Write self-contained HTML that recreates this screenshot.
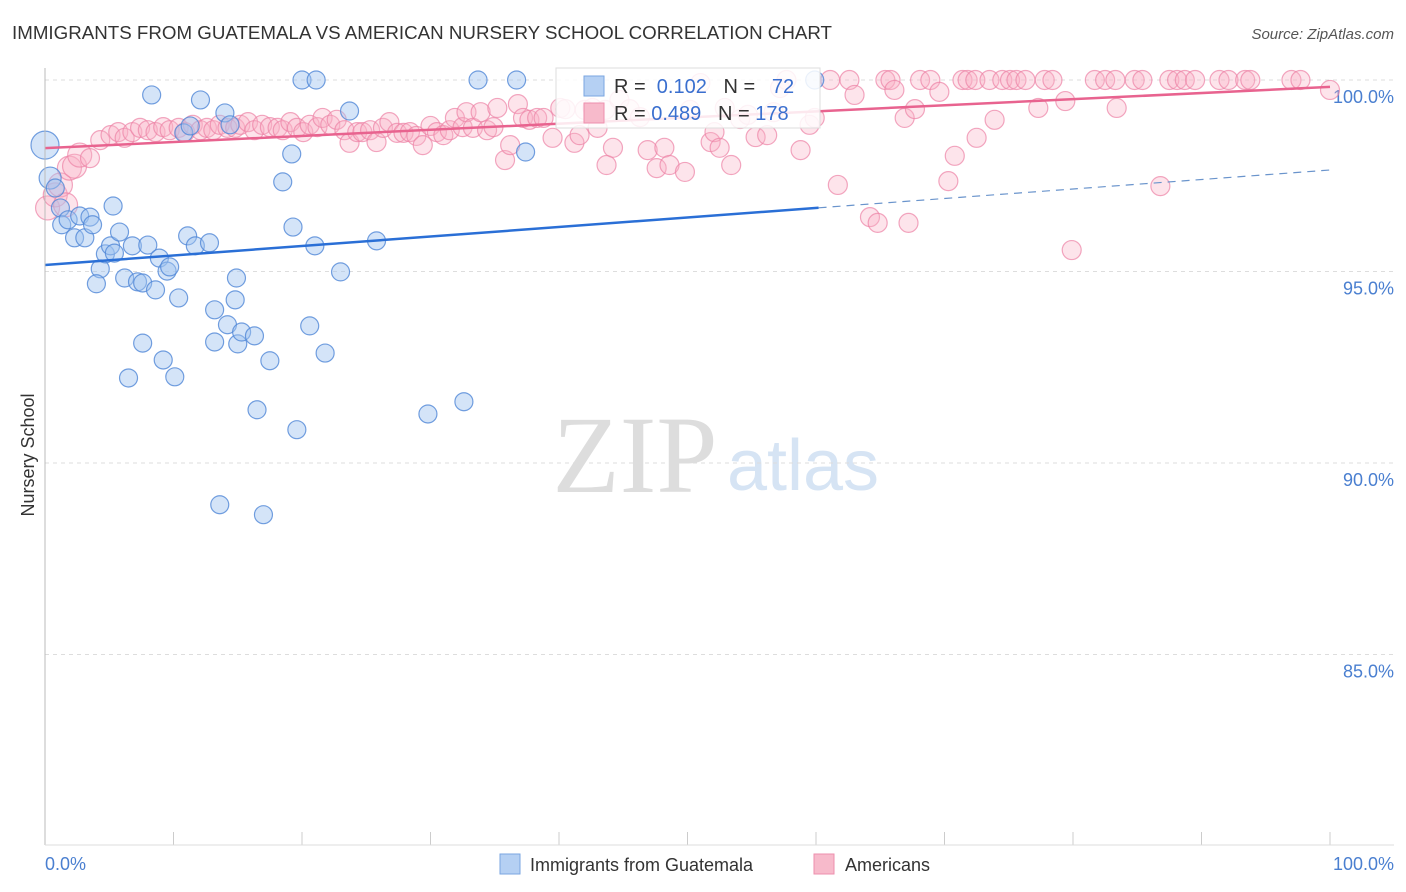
<!DOCTYPE html>
<html><head><meta charset="utf-8"><style>
body{margin:0;background:#fff;font-family:"Liberation Sans",sans-serif}
#wrap{position:relative;width:1406px;height:892px;overflow:hidden}
</style></head><body>
<div id="wrap">
<svg id="svg" width="1406" height="892">
<text x="12" y="39" font-size="18" fill="#333" textLength="820" lengthAdjust="spacingAndGlyphs">IMMIGRANTS FROM GUATEMALA VS AMERICAN NURSERY SCHOOL CORRELATION CHART</text>
<text x="1394" y="39" font-size="15" fill="#555" font-style="italic" text-anchor="end">Source: ZipAtlas.com</text>
<text x="635" y="492" font-size="110" font-family="Liberation Serif,serif" fill="#ddd" text-anchor="middle">ZIP</text>
<text x="803" y="490" font-size="72" fill="#d6e4f4" text-anchor="middle">atlas</text>
<text transform="translate(34,455) rotate(-90)" font-size="18" fill="#333" text-anchor="middle">Nursery School</text>
<g id="grid"></g><g id="ticks"></g><g id="pinkG"></g><g id="blueG"></g><g id="lines"></g>
<line x1="45" y1="68" x2="45" y2="845" stroke="#bbb"/>
<line x1="45" y1="845" x2="1394" y2="845" stroke="#ddd"/>
<text x="45" y="870" font-size="18" fill="#4a7fd0">0.0%</text>
<text x="1394" y="870" font-size="18" fill="#4a7fd0" text-anchor="end">100.0%</text>
<g>
<rect x="556" y="68" width="264" height="60" fill="#fff" fill-opacity="0.85" stroke="#ddd"/>
<rect x="584" y="76" width="20" height="20" fill="#b5d0f3" stroke="#7aa6e0"/>
<rect x="584" y="103" width="20" height="20" fill="#f7bacb" stroke="#ee8fae"/>
<text x="614" y="93" font-size="20" fill="#333">R = <tspan fill="#3a6fcf">&#160;0.102</tspan>&#160;&#160;&#160;N = <tspan fill="#3a6fcf">&#160;&#160;72</tspan></text>
<text x="614" y="120" font-size="20" fill="#333">R = <tspan fill="#3a6fcf">0.489</tspan>&#160;&#160;&#160;N = <tspan fill="#3a6fcf">178</tspan></text>
</g>
<g>
<rect x="500" y="854" width="20" height="20" fill="#b5d0f3" stroke="#7aa6e0"/>
<text x="530" y="871" font-size="18" fill="#333">Immigrants from Guatemala</text>
<rect x="814" y="854" width="20" height="20" fill="#f7bacb" stroke="#ee8fae"/>
<text x="845" y="871" font-size="18" fill="#333">Americans</text>
</g>
</svg></div>
<script>
const yTicks=[100,95,90,85];
const yTickLabels=["100.0%","95.0%","90.0%","85.0%"];
const xTicks=[0,10,20,30,40,50,60,70,80,90,100];
const blueX=[0,0.4,0.8,1.2,1.3,1.8,2.3,2.7,3.1,3.5,3.7,4.3,4.0,4.7,5.1,5.4,5.3,5.8,6.2,6.5,6.8,7.2,7.6,7.6,8.0,8.3,8.6,8.9,9.2,9.5,9.7,10.1,10.4,10.8,11.1,11.3,11.7,12.1,12.8,13.2,13.2,13.6,14.0,14.2,14.8,14.9,15.0,15.3,16.3,16.5,17.0,17.5,18.5,19.2,19.3,19.6,20.0,20.6,21.0,21.1,21.8,23.0,23.7,25.8,29.8,32.6,33.7,36.7,37.4,59.9,14.4];
const blueY=[98.3,97.44,97.18,96.66,96.22,96.35,95.88,96.45,95.88,96.42,96.22,95.07,94.68,95.46,95.67,95.48,96.71,96.03,94.83,92.22,95.67,94.73,94.70,93.13,95.69,99.61,94.52,95.35,92.69,95.01,95.12,92.25,94.31,98.62,95.93,98.80,95.67,99.48,95.75,94.00,93.16,88.91,99.14,93.61,94.26,94.83,93.11,93.42,93.32,91.39,88.65,92.67,97.34,98.07,96.16,90.87,100,93.58,95.67,100,92.87,94.99,99.19,95.80,91.28,91.60,100,100,98.12,100,98.83];
const blueSize=[14,11,9,9,9,9,9,9,9,9,9,9,9,9,9,9,9,9,9,9,9,9,9,9,9,9,9,9,9,9,9,9,9,9,9,9,9,9,9,9,9,9,9,9,9,9,9,9,9,9,9,9,9,9,9,9,9,9,9,9,9,9,9,9,9,9,9,9,9,9,9];
const pinkX=[0.2,0.8,1.2,1.6,1.9,2.3,2.7,3.5,4.3,5.1,5.7,6.2,6.8,7.4,8.0,8.6,9.2,9.7,10.4,10.9,11.5,12.1,12.6,13.1,13.6,14.2,14.8,15.2,15.8,16.3,16.9,17.5,18.1,18.5,19.1,19.6,20.1,20.6,21.2,21.6,22.2,22.7,23.3,23.7,24.3,24.7,25.3,25.8,26.3,26.8,27.4,27.9,28.4,28.9,29.4,30.0,30.5,31.0,31.5,31.9,32.5,32.8,33.3,33.9,34.4,34.9,35.2,35.8,36.2,36.8,37.2,37.7,38.3,38.8,39.5,40.1,40.5,41.2,41.6,42.0,42.6,43.0,43.6,43.7,44.2,44.7,45.5,46.3,46.9,47.6,48.2,48.6,49.8,50.2,51.0,51.8,52.1,52.5,52.9,53.4,54.1,54.7,55.3,56.2,56.7,57.2,57.7,58.8,59.5,59.9,61.1,61.7,62.6,63.0,64.2,64.8,65.4,65.8,66.1,66.9,67.2,67.7,68.1,68.9,69.6,70.3,70.8,71.4,71.8,72.4,72.5,73.5,73.9,74.5,75.1,75.6,76.3,77.3,77.8,78.4,79.4,79.9,81.7,82.5,83.3,83.4,84.8,85.4,86.8,87.5,88.1,88.7,89.5,91.4,92.1,93.4,93.8,97.0,97.7,100];
const pinkY=[96.66,97.0,97.26,96.74,97.70,97.75,98.04,97.96,98.43,98.56,98.64,98.49,98.64,98.75,98.69,98.64,98.77,98.69,98.75,98.64,98.83,98.69,98.75,98.69,98.83,98.75,98.75,98.83,98.90,98.69,98.83,98.77,98.75,98.69,98.90,98.75,98.64,98.83,98.77,99.01,98.83,98.96,98.69,98.36,98.64,98.64,98.69,98.38,98.75,98.90,98.62,98.62,98.64,98.54,98.30,98.80,98.64,98.56,98.69,99.01,98.77,99.16,98.75,99.16,98.69,98.77,99.27,97.91,98.30,99.37,99.01,98.96,99.01,99.01,98.49,99.27,99.24,98.36,98.56,99.22,99.27,98.75,99.22,97.78,98.23,99.48,99.24,99.03,98.17,97.70,98.23,97.78,97.60,99.22,99.92,98.38,98.64,98.23,99.27,97.78,98.98,99.09,98.51,98.56,99.16,99.79,100,98.17,98.83,99.01,100,97.26,100,99.61,96.42,96.27,100,100,99.74,99.01,96.27,99.24,100,100,99.69,97.36,98.02,100,100,100,98.49,100,98.96,100,100,100,100,99.27,100,100,99.45,95.56,100,100,100,99.27,100,100,97.23,100,100,100,100,100,100,100,100,100,100,99.74];
const blueTrend=[95.17,0.0248,60.2];
const pinkTrend=[98.22,0.016];
const X=v=>45+v*12.85, Y=v=>80+(100-v)*38.3;
const NS="http://www.w3.org/2000/svg";
function mk(tag,attrs,parent){const e=document.createElementNS(NS,tag);for(const k in attrs)e.setAttribute(k,attrs[k]);document.getElementById(parent).appendChild(e);return e;}
yTicks.forEach((t,i)=>{
 const l=mk('line',{x1:45,x2:1394,y1:Y(t),y2:Y(t),stroke:'#ddd','stroke-dasharray':'4,4'},'grid');
 
 
 const tx=mk('text',{x:1394,y:Y(t)+23,'font-size':18,fill:'#4a7fd0','text-anchor':'end'},'grid');
 tx.textContent=yTickLabels[i];
 
 
});
xTicks.forEach(t=>{
 const l=mk('line',{x1:X(t),x2:X(t),y1:832,y2:845,stroke:'#ccc'},'ticks');
 
 
});
pinkX.forEach((v,i)=>{
 const big=v<3?12:9.5;
 const c=mk('circle',{cx:X(v),cy:Y(pinkY[i]),r:big,fill:'rgba(248,178,198,0.35)',stroke:'rgba(236,130,165,0.7)','stroke-width':1.2},'pinkG');
 
 
});
blueX.forEach((v,i)=>{
 const c=mk('circle',{cx:X(v),cy:Y(blueY[i]),r:blueSize[i]||9,fill:'rgba(160,196,240,0.45)',stroke:'rgba(80,135,215,0.8)','stroke-width':1.2},'blueG');
 
 
});
const pl=mk('line',{x1:X(0),y1:Y(pinkTrend[0]),x2:X(100),y2:Y(pinkTrend[0]+pinkTrend[1]*100),stroke:'#e8638f','stroke-width':2.5},'lines');


const bl=mk('line',{x1:X(0),y1:Y(blueTrend[0]),x2:X(blueTrend[2]),y2:Y(blueTrend[0]+blueTrend[1]*blueTrend[2]),stroke:'#2a6fd6','stroke-width':2.5},'lines');


const bd=mk('line',{x1:X(blueTrend[2]),y1:Y(blueTrend[0]+blueTrend[1]*blueTrend[2]),x2:X(100),y2:Y(blueTrend[0]+blueTrend[1]*100),stroke:'#6a94cc','stroke-width':1.2,'stroke-dasharray':'8,6'},'lines');


</script>
</body></html>
